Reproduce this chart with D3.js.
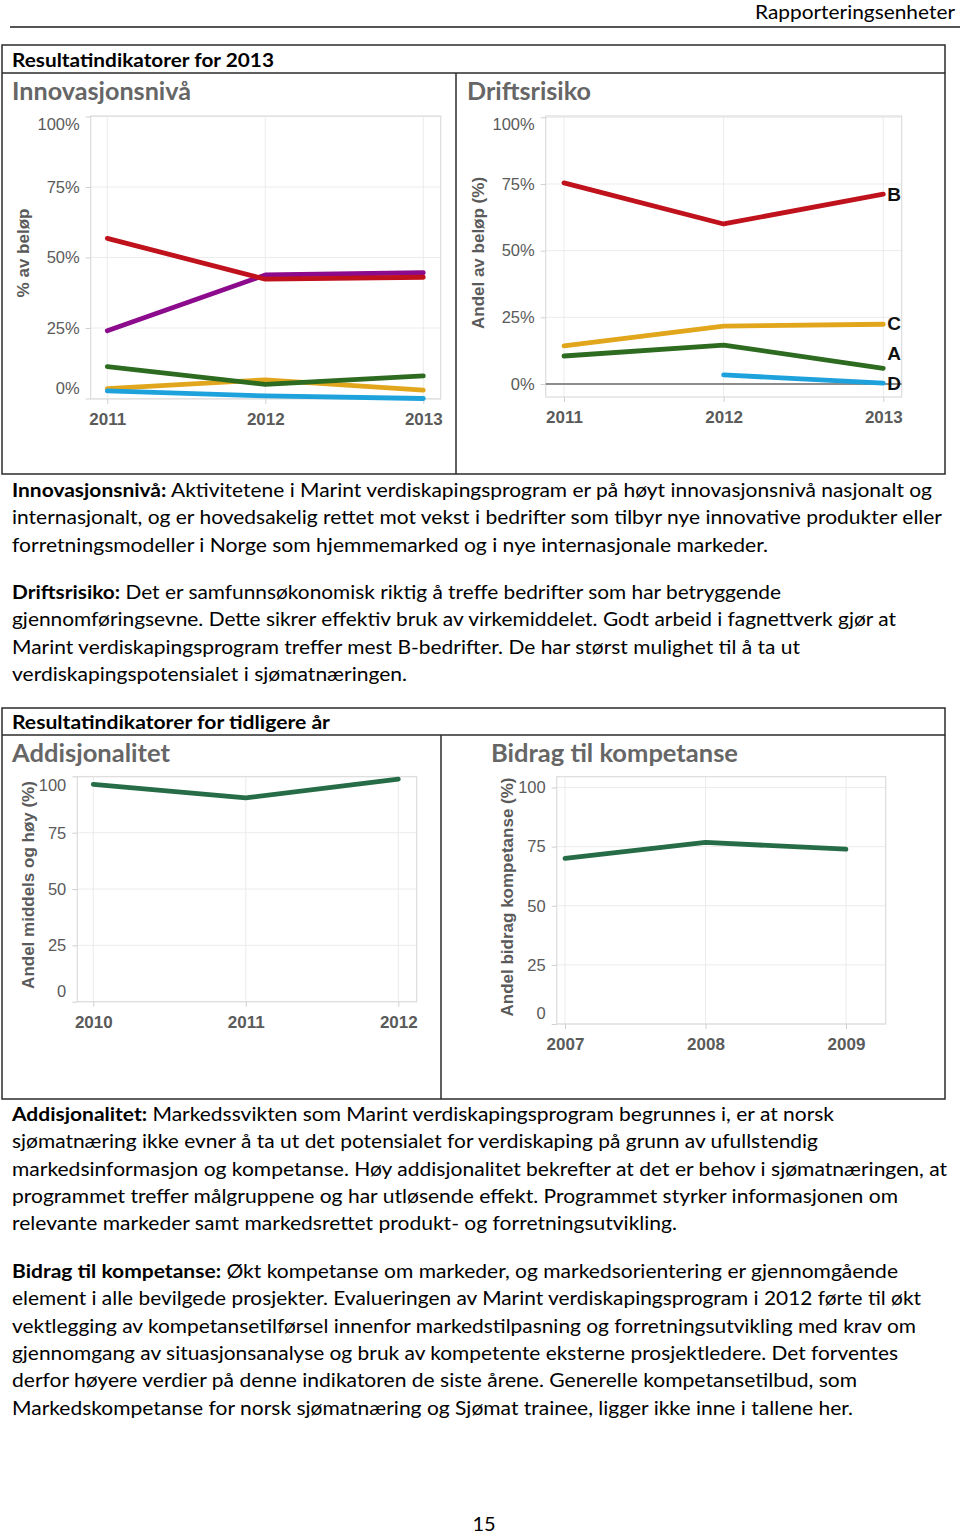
<!DOCTYPE html>
<html><head><meta charset="utf-8">
<script src="https://cdn.jsdelivr.net/npm/d3@7"></script>
<style>body{margin:0;background:#fff} svg{display:block}</style>
</head><body><svg id="c" width="960" height="1534"></svg>
<script>
// ---- data ----
const innovYears = [2011, 2012, 2013];
const innovRed = [0.568, 0.423, 0.43];
const innovPurple = [0.24, 0.438, 0.446];
const innovGreen = [0.113, 0.05, 0.08];
const innovYellow = [0.035, 0.066, 0.03];
const innovBlue = [0.027, 0.009, 0.0];

const driftYears = [2011, 2012, 2013];
const driftCategories = ["B", "C", "A", "D"];
const driftB = [0.754, 0.6, 0.712];
const driftC = [0.143, 0.217, 0.224];
const driftA = [0.105, 0.146, 0.059];
const driftD = [null, 0.034, 0.003];

const addYears = [2010, 2011, 2012];
const addValues = [96.5, 90.5, 98.8];

const bidragYears = [2007, 2008, 2009];
const bidragValues = [70, 76.8, 73.9];

const pctTicks = [0, 0.25, 0.5, 0.75, 1];
const numTicks = [0, 25, 50, 75, 100];

// ---- drawing ----
const svg = d3.select("#c");
const BODY = "Lato, 'Open Sans', sans-serif";
const AX = "'Liberation Sans', Arial, sans-serif";

function txt(x, y, parts, len, size, opts = {}) {
  const t = svg.append("text").attr("x", x).attr("y", y)
    .attr("font-family", opts.family || BODY).attr("font-size", size)
    .attr("fill", opts.fill || "#000");
  if (opts.anchor) t.attr("text-anchor", opts.anchor);
  parts.forEach(p => t.append("tspan").attr("font-weight", p[1] ? "bold" : "normal").text(p[0]));
  if (len) t.attr("textLength", len).attr("lengthAdjust", "spacingAndGlyphs");
  return t;
}

// header
txt(955, 19, [["Rapporteringsenheter", 0]], 200, 20, {anchor: "end"});
svg.append("line").attr("x1", 10).attr("x2", 960).attr("y1", 27).attr("y2", 27).attr("stroke", "#555").attr("stroke-width", 2);

// boxes
function box(y0, y1, rowY, divX) {
  const g = svg.append("g").attr("fill", "none").attr("stroke", "#2b2b2b").attr("stroke-width", 1.5);
  g.append("rect").attr("x", 2).attr("y", y0).attr("width", 943).attr("height", y1 - y0);
  g.append("line").attr("x1", 2).attr("x2", 945).attr("y1", rowY).attr("y2", rowY);
  g.append("line").attr("x1", divX).attr("x2", divX).attr("y1", rowY).attr("y2", y1);
}
box(45, 474, 73, 456);
box(708, 1099, 735, 441);

txt(12, 67, [["Resultatindikatorer for 2013", 1]], 262, 19.5);
txt(12, 729, [["Resultatindikatorer for tidligere år", 1]], 318, 19.5);

txt(12, 100, [["Innovasjonsnivå", 1]], 179, 24, {fill: "#666"});
txt(467, 100, [["Driftsrisiko", 1]], 124, 24, {fill: "#666"});
txt(12, 762, [["Addisjonalitet", 1]], 158, 24, {fill: "#666"});
txt(491, 762, [["Bidrag til kompetanse", 1]], 247, 24, {fill: "#666"});

function chart(c) {
  const x = d3.scaleLinear().domain([c.years[0], c.years[2]]).range(c.xr);
  const y = d3.scaleLinear().domain(c.yd).range(c.yr);
  const g = svg.append("g");
  g.selectAll(".gy").data(c.ticks).join("line")
    .attr("x1", c.L).attr("x2", c.R).attr("y1", d => y(d)).attr("y2", d => y(d))
    .attr("stroke", "#ececec").attr("stroke-width", 1);
  g.selectAll(".gx").data(c.years).join("line")
    .attr("x1", d => x(d)).attr("x2", d => x(d)).attr("y1", c.T).attr("y2", c.B)
    .attr("stroke", "#ececec").attr("stroke-width", 1);
  g.append("rect").attr("x", c.L).attr("y", c.T).attr("width", c.R - c.L).attr("height", c.B - c.T)
    .attr("fill", "none").attr("stroke", "#dcdcdc").attr("stroke-width", 1.2);
  if (c.zeroLine) g.append("line").attr("x1", c.L).attr("x2", c.R).attr("y1", y(0)).attr("y2", y(0))
    .attr("stroke", "#6a6a6a").attr("stroke-width", 1.3);
  const ya = g.append("g").attr("transform", `translate(${c.L},0)`)
    .call(d3.axisLeft(y).tickValues(c.ticks).tickFormat(c.fmt).tickSize(5).tickPadding(6));
  ya.select(".domain").remove();
  ya.selectAll(".tick line").attr("stroke", "#d0d0d0");
  ya.selectAll(".tick text").attr("font-family", AX).attr("font-size", 16.5).attr("fill", "#5a5a5a")
    .attr("transform", d => { const p = y(d); const q = Math.min(Math.max(p, c.T + 8.5), c.B - 10.5); return `translate(0,${q - p})`; });
  const xa = g.append("g").attr("transform", `translate(0,${c.B})`)
    .call(d3.axisBottom(x).tickValues(c.years).tickFormat(d3.format("d")).tickSize(5).tickPadding(0));
  xa.select(".domain").remove();
  xa.selectAll(".tick line").attr("stroke", "#d0d0d0");
  xa.selectAll(".tick text").attr("font-family", AX).attr("font-size", 17).attr("font-weight", "bold")
    .attr("fill", "#5a5a5a").attr("y", c.xLab).attr("dy", 0);
  g.append("text").attr("transform", `translate(${c.titleX},${c.titleY}) rotate(-90)`)
    .attr("text-anchor", "middle").attr("dy", "0.35em").attr("font-family", AX).attr("font-size", 17)
    .attr("font-weight", "bold").attr("fill", "#5a5a5a").text(c.title);
  const line = d3.line().defined(d => d[1] != null).x(d => x(d[0])).y(d => y(d[1]));
  c.series.forEach(s => {
    g.append("path").datum(c.years.map((yr, i) => [yr, s.values[i]]))
      .attr("d", line).attr("fill", "none").attr("stroke", s.color).attr("stroke-width", 4.8)
      .attr("stroke-linecap", "round").attr("stroke-linejoin", "round");
  });
  if (c.endLabels) {
    const labs = c.series.map(s => ({name: s.name, y: y(s.values[2])})).sort((a, b) => b.y - a.y);
    for (let i = 1; i < labs.length; i++) if (labs[i - 1].y - labs[i].y < 30) labs[i].y = labs[i - 1].y - 30;
    g.selectAll(".lab").data(labs).join("text").attr("x", x(c.years[2]) + 4).attr("y", d => d.y)
      .attr("dy", "0.36em").attr("font-family", AX).attr("font-size", 19).attr("font-weight", "bold")
      .attr("fill", "#111").text(d => d.name);
  }
}

const pctFmt = d => Math.round(d * 100) + "%";
chart({years: innovYears, xr: [107.3, 423.3], yd: [0, 1], yr: [398.5, 116.5],
  L: 90.7, R: 440.7, T: 116, B: 399, ticks: pctTicks, fmt: pctFmt, xLab: 26,
  title: "% av beløp", titleX: 23, titleY: 253,
  series: [
    {values: innovYellow, color: "#e2a61c"},
    {values: innovBlue, color: "#1ea2dc"},
    {values: innovGreen, color: "#2c6b20"},
    {values: innovPurple, color: "#8c0a8c"},
    {values: innovRed, color: "#c0121c"}]});

chart({years: driftYears, xr: [564, 883.3], yd: [0, 1], yr: [384, 117.3],
  L: 545.7, R: 901.7, T: 116, B: 397, ticks: pctTicks, fmt: pctFmt, xLab: 26, zeroLine: true,
  title: "Andel av beløp (%)", titleX: 478, titleY: 253, endLabels: true,
  series: [
    {name: driftCategories[0], values: driftB, color: "#c0121c"},
    {name: driftCategories[1], values: driftC, color: "#e2a61c"},
    {name: driftCategories[2], values: driftA, color: "#2c6b20"},
    {name: driftCategories[3], values: driftD, color: "#1ea2dc"}]});

chart({years: addYears, xr: [93.3, 398.3], yd: [0, 100], yr: [1001.7, 776.4],
  L: 77.3, R: 416.7, T: 776.7, B: 1001.7, ticks: numTicks, fmt: d3.format("d"), xLab: 26,
  title: "Andel middels og høy (%)", titleX: 28, titleY: 885,
  series: [{values: addValues, color: "#256c47"}]});

chart({years: bidragYears, xr: [565, 846], yd: [0, 100], yr: [1024, 787.5],
  L: 556.7, R: 885.7, T: 776.7, B: 1024, ticks: numTicks, fmt: d3.format("d"), xLab: 26,
  title: "Andel bidrag kompetanse (%)", titleX: 507, titleY: 897,
  series: [{values: bidragValues, color: "#256c47"}]});

// body text: each paragraph = {y, lines: [{parts, len}]}
const paras = [
  {y: 497, lines: [
    {parts: [["Innovasjonsnivå:", 1], [" Aktivitetene i Marint verdiskapingsprogram er på høyt innovasjonsnivå nasjonalt og", 0]], len: 920},
    {parts: [["internasjonalt, og er hovedsakelig rettet mot vekst i bedrifter som tilbyr nye innovative produkter eller", 0]], len: 930},
    {parts: [["forretningsmodeller i Norge som hjemmemarked og i nye internasjonale markeder.", 0]], len: 756}]},
  {y: 599, lines: [
    {parts: [["Driftsrisiko:", 1], [" Det er samfunnsøkonomisk riktig å treffe bedrifter som har betryggende", 0]], len: 769},
    {parts: [["gjennomføringsevne. Dette sikrer effektiv bruk av virkemiddelet. Godt arbeid i fagnettverk gjør at", 0]], len: 884},
    {parts: [["Marint verdiskapingsprogram treffer mest B-bedrifter. De har størst mulighet til å ta ut", 0]], len: 788},
    {parts: [["verdiskapingspotensialet i sjømatnæringen.", 0]], len: 395}]},
  {y: 1121, lines: [
    {parts: [["Addisjonalitet:", 1], [" Markedssvikten som Marint verdiskapingsprogram begrunnes i, er at norsk", 0]], len: 822},
    {parts: [["sjømatnæring ikke evner å ta ut det potensialet for verdiskaping på grunn av ufullstendig", 0]], len: 806},
    {parts: [["markedsinformasjon og kompetanse. Høy addisjonalitet bekrefter at det er behov i sjømatnæringen, at", 0]], len: 935},
    {parts: [["programmet treffer målgruppene og har utløsende effekt. Programmet styrker informasjonen om", 0]], len: 886},
    {parts: [["relevante markeder samt markedsrettet produkt- og forretningsutvikling.", 0]], len: 665}]},
  {y: 1278, lines: [
    {parts: [["Bidrag til kompetanse:", 1], [" Økt kompetanse om markeder, og markedsorientering er gjennomgående", 0]], len: 886},
    {parts: [["element i alle bevilgede prosjekter. Evalueringen av Marint verdiskapingsprogram i 2012 førte til økt", 0]], len: 909},
    {parts: [["vektlegging av kompetansetilførsel innenfor markedstilpasning og forretningsutvikling med krav om", 0]], len: 904},
    {parts: [["gjennomgang av situasjonsanalyse og bruk av kompetente eksterne prosjektledere. Det forventes", 0]], len: 886},
    {parts: [["derfor høyere verdier på denne indikatoren de siste årene. Generelle kompetansetilbud, som", 0]], len: 845},
    {parts: [["Markedskompetanse for norsk sjømatnæring og Sjømat trainee, ligger ikke inne i tallene her.", 0]], len: 841}]}
];
paras.forEach(p => p.lines.forEach((l, i) => txt(12, p.y + i * 27.3, l.parts, l.len, 19.5)));

txt(484, 1531, [["15", 0]], null, 20, {anchor: "middle"});
</script></body></html>
